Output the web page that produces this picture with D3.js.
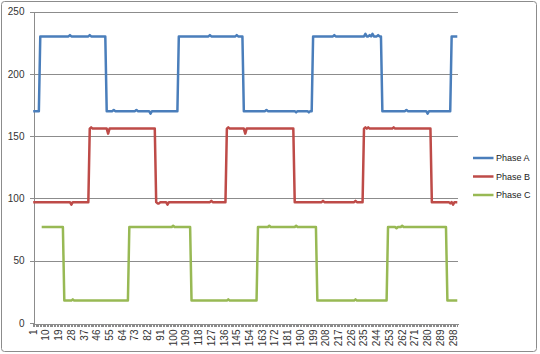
<!DOCTYPE html>
<html>
<head>
<meta charset="utf-8">
<script src="https://cdn.jsdelivr.net/npm/d3@7"></script>
<style>
  body { margin: 0; background: #fff; }
  svg { display: block; font-family: "Liberation Sans", Arial, sans-serif; }
  .grid line { stroke: #8c8c8c; stroke-width: 1; shape-rendering: crispEdges; }
  .axis path, .axis line { stroke: #8c8c8c; shape-rendering: crispEdges; }
  .axis text { fill: #333; }
</style>
</head>
<body>
<div id="chart"></div>
<script>
const width = 540, height = 354;

// category labels 1..301
const categories = d3.range(1, 302);
const yTicks = [0, 50, 100, 150, 200, 250];
const seriesNames = ["Phase A", "Phase B", "Phase C"];
const seriesColors = ["#4a7ebb", "#be4b48", "#98b954"];

const phaseA = [
  170,170,170,170,170,230,230,230,230,230,
  230,230,230,230,230,230,230,230,230,230,
  230,230,230,230,230,230,231,230,230,230,
  230,230,230,230,230,230,230,230,230,230,
  231,230,230,230,230,230,230,230,230,230,
  230,230,170,170,170,170,170,171,170,170,
  170,170,170,170,170,170,170,170,170,170,
  170,170,170,171,170,170,170,170,170,170,
  170,170,170,168,170,170,170,170,170,170,
  170,170,170,170,170,170,170,170,170,170,
  170,170,170,230,230,230,230,230,230,230,
  230,230,230,230,230,230,230,230,230,230,
  230,230,230,230,230,231,230,230,230,230,
  230,230,230,230,230,230,230,230,230,230,
  230,230,230,230,231,230,230,230,230,170,
  170,170,170,170,170,170,170,170,170,170,
  170,170,170,170,170,171,170,170,170,170,
  170,170,170,170,170,170,170,170,170,170,
  170,170,170,170,170,170,169,170,170,170,
  170,170,170,170,170,169,170,170,230,230,
  230,230,230,230,230,230,230,230,230,230,
  230,230,230,231,230,230,230,230,230,230,
  230,230,230,230,230,230,230,230,230,230,
  230,230,230,230,230,232,230,230,231,230,
  232,230,230,230,231,230,230,170,170,170,
  170,170,170,170,170,170,170,170,170,170,
  170,170,170,170,171,170,170,170,170,170,
  170,170,170,170,170,170,170,170,170,168,
  170,170,170,170,170,170,170,170,170,170,
  170,170,170,170,170,170,230,230,230,230,
  230
];

const phaseB = [
  97,97,97,97,97,97,97,97,97,97,
  97,97,97,97,97,97,97,97,97,97,
  97,97,97,97,97,97,97,95,97,97,
  97,97,97,97,97,97,97,97,97,97,
  156,157,156,156,156,156,156,156,156,156,
  156,156,156,152,156,156,156,156,156,156,
  156,156,156,156,156,156,156,156,156,156,
  156,156,156,156,156,156,156,156,156,156,
  156,156,156,156,156,156,156,97,96,96,
  97,97,97,97,97,95,97,97,97,97,
  97,97,97,97,97,97,97,97,97,97,
  97,97,97,97,97,97,97,97,97,97,
  97,97,97,97,97,97,98,97,97,97,
  97,97,97,97,97,97,97,156,157,156,
  156,156,156,156,156,156,156,156,156,156,
  152,156,156,156,156,156,156,156,156,156,
  156,156,156,156,156,156,156,156,156,156,
  156,156,156,156,156,156,156,156,156,156,
  156,156,156,156,156,97,97,97,97,97,
  97,97,97,97,97,97,97,97,97,97,
  97,97,97,97,97,98,97,97,97,97,
  97,97,97,97,97,97,97,97,97,97,
  97,97,97,97,97,97,97,97,98,97,
  97,97,97,97,156,157,156,157,156,156,
  156,156,156,156,156,156,156,156,156,156,
  156,156,156,156,156,157,156,156,156,156,
  156,156,156,156,156,156,156,156,156,156,
  156,156,156,156,156,156,156,156,156,156,
  156,156,97,97,97,97,97,97,97,97,
  97,97,97,97,97,96,97,95,97,97,
  97
];

const phaseC = [
  null,null,null,null,null,null,77,77,77,77,
  77,77,77,77,77,77,77,77,77,77,
  77,77,18,18,18,18,18,18,19,18,
  18,18,18,18,18,18,18,18,18,18,
  18,18,18,18,18,18,18,18,18,18,
  18,18,18,18,18,18,18,18,18,18,
  18,18,18,18,18,18,18,18,77,77,
  77,77,77,77,77,77,77,77,77,77,
  77,77,77,77,77,77,77,77,77,77,
  77,77,77,77,77,77,77,77,77,78,
  77,77,77,77,77,77,77,77,77,77,
  77,77,18,18,18,18,18,18,18,18,
  18,18,18,18,18,18,18,18,18,18,
  18,18,18,18,18,18,18,18,19,18,
  18,18,18,18,18,18,18,18,18,18,
  18,18,18,18,18,18,18,18,18,77,
  77,77,77,77,77,77,77,78,77,77,
  77,77,77,77,77,77,77,77,77,77,
  77,77,77,77,77,77,78,77,77,77,
  77,77,77,77,77,77,77,77,77,77,
  77,18,18,18,18,18,18,18,18,18,
  18,18,18,18,18,18,18,18,18,18,
  18,18,18,18,18,18,18,18,19,18,
  18,18,18,18,18,18,18,18,18,18,
  18,18,18,18,18,18,18,18,18,18,
  18,77,77,77,77,77,77,76,77,77,
  77,78,77,77,77,77,77,77,77,77,
  77,77,77,77,77,77,77,77,77,77,
  77,77,77,77,77,77,77,77,77,77,
  77,77,77,18,18,18,18,18,18,18,
  18
];

const series = [phaseA, phaseB, phaseC];

const margin = { left: 32.5, right: 458, top: 11.5, bottom: 323 };

const svg = d3.select("#chart")
  .append("svg")
  .attr("width", width)
  .attr("height", height);

// chart border
svg.append("rect")
  .attr("x", 1.5).attr("y", 1.5)
  .attr("width", 535).attr("height", 350)
  .attr("rx", 3)
  .attr("fill", "#fff")
  .attr("stroke", "#8c8c8c");

const x = d3.scaleBand()
  .domain(categories)
  .range([margin.left, margin.right]);

const y = d3.scaleLinear()
  .domain([0, 250])
  .range([margin.bottom, margin.top]);

// gridlines
svg.append("g")
  .attr("class", "grid")
  .selectAll("line")
  .data(yTicks.filter(d => d > 0))
  .enter()
  .append("line")
  .attr("x1", margin.left)
  .attr("x2", margin.right)
  .attr("y1", d => Math.round(y(d)) + 0.5)
  .attr("y2", d => Math.round(y(d)) + 0.5);

// y axis
const yAxis = svg.append("g")
  .attr("class", "axis")
  .attr("transform", `translate(${Math.round(margin.left) + 0.5},0)`)
  .call(d3.axisLeft(y).tickValues(yTicks).tickSize(4).tickPadding(5));
yAxis.selectAll("text").style("font-size", "10px");

// x axis: minor ticks every category
svg.append("g")
  .attr("class", "axis")
  .attr("transform", `translate(0,${Math.round(margin.bottom) + 0.5})`)
  .call(d3.axisBottom(x).tickSize(3).tickFormat("").tickSizeOuter(0));

const xAxis = svg.append("g")
  .attr("class", "axis")
  .attr("transform", `translate(0,${Math.round(margin.bottom) + 0.5})`)
  .call(d3.axisBottom(x)
    .tickValues(categories.filter(d => (d - 1) % 9 === 0))
    .tickSize(0)
    .tickSizeOuter(0));
xAxis.select(".domain").remove();
xAxis.selectAll("text")
  .style("font-size", "10px")
  .style("text-anchor", "end")
  .attr("transform", "rotate(-90)")
  .attr("x", -6)
  .attr("y", 0)
  .attr("dy", "0.35em");

// lines
const line = d3.line()
  .defined(d => d != null)
  .x((d, i) => x(categories[i]) + x.bandwidth() / 2)
  .y(d => y(d));

svg.append("g")
  .selectAll("path")
  .data(series)
  .enter()
  .append("path")
  .attr("fill", "none")
  .attr("stroke", (d, i) => seriesColors[i])
  .attr("stroke-width", 2.5)
  .attr("stroke-linejoin", "round")
  .attr("d", line);

// legend
const legend = svg.append("g")
  .selectAll("g")
  .data(seriesNames)
  .enter()
  .append("g")
  .attr("transform", (d, i) => `translate(473,${158 + i * 18.5})`);

legend.append("line")
  .attr("x1", 0).attr("x2", 20.5)
  .attr("stroke", (d, i) => seriesColors[i])
  .attr("stroke-width", 2.5);

legend.append("text")
  .attr("x", 23)
  .attr("dy", "0.35em")
  .style("font-size", "9px")
  .style("fill", "#222")
  .text(d => d);
</script>
</body>
</html>
